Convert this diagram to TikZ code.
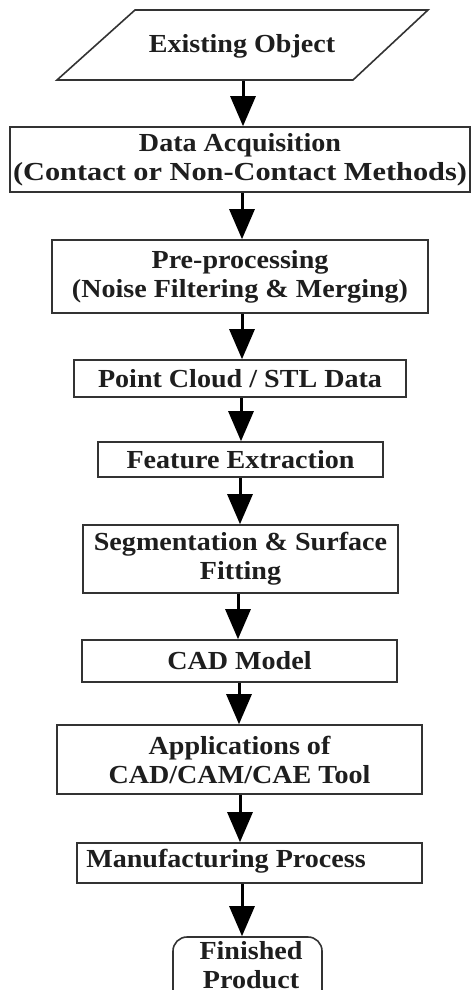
\documentclass[tikz,border=0pt]{standalone}
\usepackage{fontspec}
\setmainfont{Liberation Serif}[FakeStretch=1.08]
\usetikzlibrary{arrows.meta}
\definecolor{ln}{HTML}{333333}
\definecolor{tx}{HTML}{1E1E1E}
\tikzset{
  box/.style={draw=ln, line width=1.6pt, rectangle, inner sep=0pt, align=center,
    text=tx, font=\fontsize{26}{29}\selectfont\bfseries},
  lbl/.style={inner sep=0pt, align=center, text=tx, font=\fontsize{26}{29}\selectfont\bfseries},
  arr/.style={draw=black, line width=3pt, -{Triangle[width=25pt,length=30pt]}, shorten >=0pt}
}
\begin{document}
\begin{tikzpicture}[x=1pt,y=-1pt]
\useasboundingbox (0,0) rectangle (473,990);
\fill[white] (0,0) rectangle (473,990);
\clip (0,0) rectangle (473,990);
% parallelogram
\coordinate (p1) at (135,10);
\coordinate (p2) at (428,10);
\coordinate (p3) at (353,80);
\coordinate (p4) at (57,80);
\draw[draw=ln, line width=1.6pt, line join=miter] (p1) -- (p2) -- (p3) -- (p4) -- cycle;
\node[lbl, minimum height=70pt, minimum width=200pt] (obj) at (242,46) {Existing Object};
% boxes
\node[box, minimum width=460pt, minimum height=65pt] (b2) at (240,159.5) {Data Acquisition\\\scalebox{1.08}[1]{(Contact or Non-Contact Methods)}};
\node[box, minimum width=376pt, minimum height=73pt] (b3) at (240,276.5) {Pre-processing\\(Noise Filtering \& Merging)};
\node[box, minimum width=332pt, minimum height=37pt] (b4) at (240,378.5) {Point Cloud / STL Data};
\node[box, minimum width=285pt, minimum height=35pt] (b5) at (240.5,459.5) {Feature Extraction};
\node[box, minimum width=315pt, minimum height=68pt] (b6) at (240.5,559) {Segmentation \& Surface\\Fitting};
\node[box, minimum width=315pt, minimum height=42pt] (b7) at (239.5,661) {CAD Model};
\node[box, minimum width=365pt, minimum height=69pt] (b8) at (239.5,759.5) {Applications of\\CAD/CAM/CAE Tool};
\node[box, minimum width=345pt, minimum height=40pt] (b9) at (249.5,863) {};
\node[lbl] (t9) at (226,861) {Manufacturing Process};
\node[box, rounded corners=14pt, minimum width=149pt, minimum height=70pt] (b10) at (247.5,972) {};
\node[lbl] (t10) at (251,965) {Finished\\Product};
% arrows
\draw[arr] (obj.south -| 243,0) -- (b2.north -| 243,0);
\draw[arr] (b2.south -| 242,0) -- (b3.north -| 242,0);
\draw[arr] (b3.south -| 242,0) -- (b4.north -| 242,0);
\draw[arr] (b4.south -| 241,0) -- (b5.north -| 241,0);
\draw[arr] (b5.south -| 240,0) -- (b6.north -| 240,0);
\draw[arr] (b6.south -| 238,0) -- (b7.north -| 238,0);
\draw[arr] (b7.south -| 239,0) -- (b8.north -| 239,0);
\draw[arr] (b8.south -| 240,0) -- (b9.north -| 240,0);
\draw[arr] (b9.south -| 242,0) -- (b10.north -| 242,0);
\end{tikzpicture}
\end{document}
